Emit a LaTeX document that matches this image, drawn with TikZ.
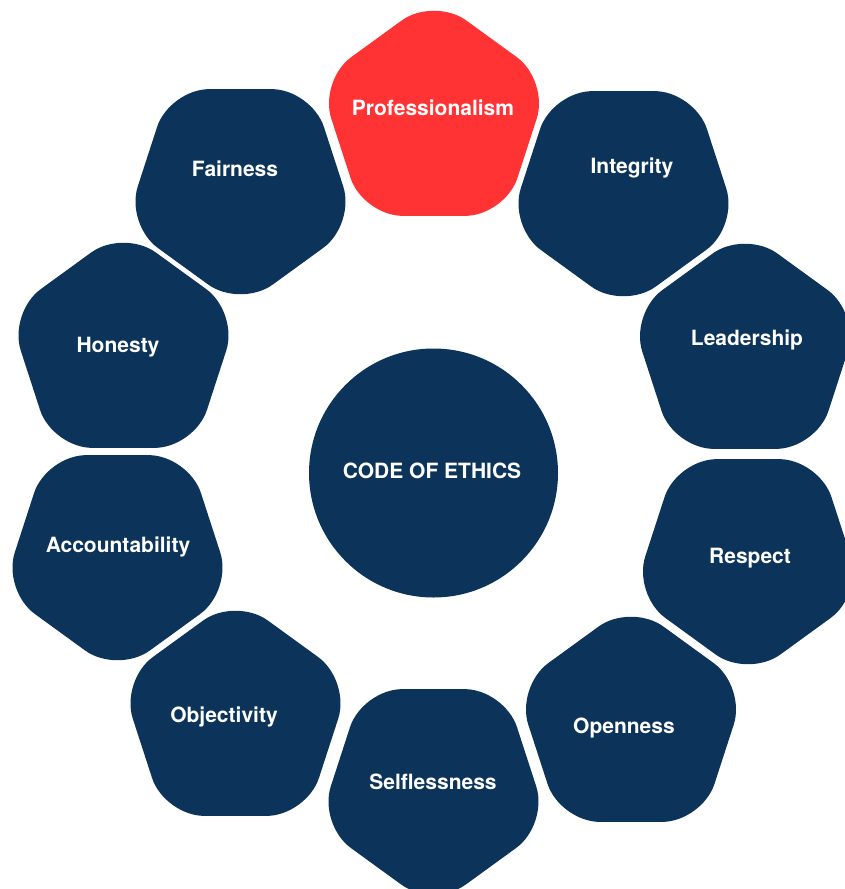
\documentclass[tikz,border=0pt]{standalone}
\usepackage{fontspec}
\setmainfont{TeX Gyre Heros}
\usetikzlibrary{shapes.geometric}
\definecolor{navy}{RGB}{12,52,90}
\definecolor{alert}{RGB}{255,51,51}

\begin{document}
\begin{tikzpicture}[x=1pt,y=-1pt]
                        \tikzstyle{petal}=[regular polygon, regular polygon sides=5, minimum size=242pt, inner sep=0pt, rounded corners=40pt, fill=navy]
                        \tikzstyle{petal down}=[petal, shape border rotate=180]
                        \tikzstyle{word}=[text=white, inner sep=0pt, font=\bfseries\fontsize{21}{25}\selectfont]
                        \useasboundingbox (0,0) rectangle (845,889);
                        % centre
                        \node[circle, fill=navy, minimum size=249pt, inner sep=0pt] (core) at (433.5,473) {};
                        \node[word] (core-t) at (432,471) {CODE OF ETHICS};
                        % ring of values
                        \node[petal, fill=alert] (prof) at (434,118) {};
                        \node[petal down] (integ) at (623.5,189) {};
                        \node[petal] (lead) at (745,351) {};
                        \node[petal down] (resp) at (748,557) {};
                        \node[petal] (open) at (631,724) {};
                        \node[petal down] (self) at (433.5,787) {};
                        \node[petal] (obj) at (235.5,718) {};
                        \node[petal down] (acc) at (117.5,553) {};
                        \node[petal] (hon) at (123.5,350) {};
                        \node[petal down] (fair) at (240.5,187) {};
                        % labels
                        \node[word] (prof-t) at (433,108) {Professionalism};
                        \node[word] (integ-t) at (632,168) {Integrity};
                        \node[word] (lead-t) at (747,340) {Leadership};
                        \node[word] (resp-t) at (750,558) {Respect};
                        \node[word] (open-t) at (624,728) {Openness};
                        \node[word] (self-t) at (433,782) {Selflessness};
                        \node[word] (obj-t) at (224,717) {Objectivity};
                        \node[word] (acc-t) at (118,547) {Accountability};
                        \node[word] (hon-t) at (118,347) {Honesty};
                        \node[word] (fair-t) at (235,169) {Fairness};
                    \end{tikzpicture}
\end{document}
